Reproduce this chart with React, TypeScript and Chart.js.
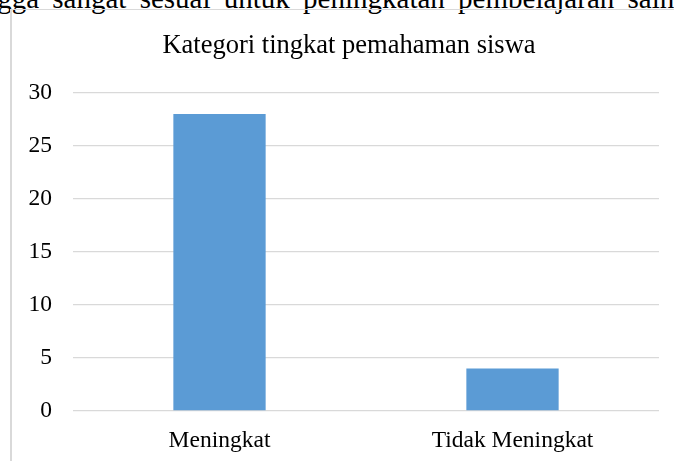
import { useEffect, useRef } from "react";
import { Chart, registerables } from "chart.js";

Chart.register(...registerables);

const categories = ["Meningkat", "Tidak Meningkat"];
const values = [28, 4];
const yTicks = [0, 5, 10, 15, 20, 25, 30];
const chartTitle = "Kategori tingkat pemahaman siswa";
const bodyText = "sehingga sangat sesuai untuk peningkatan pembelajaran sains";

const FONT = "'Liberation Serif', 'Times New Roman', serif";

export default function App() {
  const ref = useRef<HTMLCanvasElement>(null);

  useEffect(() => {
    if (!ref.current) return;
    const chart = new Chart(ref.current, {
      type: "bar",
      data: {
        labels: categories,
        datasets: [
          {
            data: values,
            backgroundColor: "#5b9bd5",
            borderWidth: 0,
            barPercentage: 0.9,
            categoryPercentage: 0.35,
          },
        ],
      },
      options: {
        animation: false,
        responsive: false,
        maintainAspectRatio: false,
        layout: { padding: { left: 8.5, right: 10.5, top: 0, bottom: 0 } },
        plugins: {
          legend: { display: false },
          tooltip: { enabled: false },
          title: {
            display: true,
            text: chartTitle,
            color: "#000",
            font: { family: FONT, size: 26.5, weight: "normal" },
            padding: { top: 30, bottom: 31 },
          },
        },
        scales: {
          x: {
            grid: { display: false, drawTicks: false },
            border: { display: false },
            afterFit: (s: any) => {
              s.height = 50;
            },
            ticks: {
              color: "#000",
              font: { family: FONT, size: 23.5 },
              padding: 15.5,
            },
          },
          y: {
            min: 0,
            max: 30,
            afterBuildTicks: (scale: any) => {
              scale.ticks = yTicks.map((v) => ({ value: v }));
            },
            afterFit: (s: any) => {
              s.width = 64.5;
            },
            grid: { color: "#d9d9d9", lineWidth: 1.3, drawTicks: false },
            border: { display: false },
            ticks: {
              color: "#000",
              font: { family: FONT, size: 23.5 },
              padding: 21,
            },
          },
          yRight: {
            position: "right",
            display: true,
            min: 0,
            max: 30,
            grid: { display: false, drawTicks: false },
            border: { display: false },
            ticks: { display: false },
            afterFit: (s: any) => {
              s.width = 30.5;
            },
          },
        },
      },
    });
    return () => chart.destroy();
  }, []);

  return (
    <div
      style={{
        position: "fixed",
        left: 0,
        top: 0,
        width: 674,
        height: 461,
        overflow: "hidden",
        background: "#fff",
      }}
    >
      <div
        style={{
          position: "absolute",
          left: -64,
          top: -16,
          whiteSpace: "nowrap",
          fontFamily: FONT,
          fontSize: 29,
          lineHeight: "29px",
          wordSpacing: 6,
          color: "#000",
        }}
      >
        {bodyText}
      </div>
      <div
        style={{
          position: "absolute",
          left: 10,
          top: 9,
          width: 720,
          height: 520,
          borderLeft: "2px solid #d9d9d9",
          borderTop: "1.5px solid #d9d9d9",
          boxSizing: "border-box",
        }}
      />
      <canvas
        ref={ref}
        width={700}
        height={461}
        style={{ position: "absolute", left: 0, top: 0, width: 700, height: 461, display: "block" }}
      />
    </div>
  );
}
